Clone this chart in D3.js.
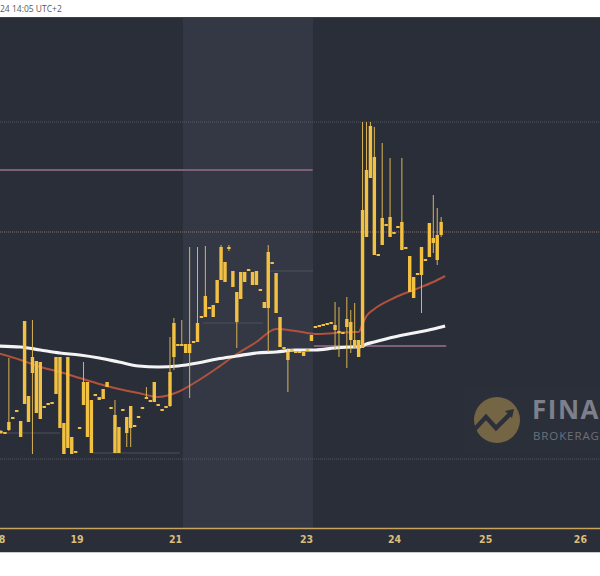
<!DOCTYPE html>
<html><head><meta charset="utf-8">
<script src="https://cdn.jsdelivr.net/npm/d3@7/dist/d3.min.js"></script>
<style>html,body{margin:0;padding:0;background:#fff;}svg{display:block}</style>
</head><body>
<svg id="c" width="600" height="576"></svg>
<script>
// ---- data ----
const opens = [60950,60940,60980,61090,61160,60910,61240,61060,61550,61150,
61090,61200,61230,61240,61340,61000,60740,60800,60740,60750,
60990,61230,60910,60750,61320,61280,61290,61410,61190,60750,
60750,61170,60950,61000,61010,61100,61190,61290,61260,61260,
61220,61170,61200,61220,61710,61820,61820,61750,61750,61850,
61860,62100,62110,62190,62110,62250,62480,62460,62790,62410,
62060,62290,62460,62570,62430,62430,62370,62200,62200,62640,
62150,61810,61790,61680,61770,61750,61750,61720,61770,61870,
62000,62010,62020,62030,62040,61980,61950,61940,62010,61880,
61800,61710,61800,62910,63500,62730,62720,62830,63020,62910,
62940,63000,62780,62790,62360,62300,62530,62530,62670,62710,
62850,62680,62930];
const closes = [60970,60960,61060,61110,61180,61070,62070,61320,61710,61670,
61660,61220,61250,61260,61710,61710,61050,61710,60910,60770,
61010,61460,61460,61280,61340,61310,61390,61460,61210,61130,
61010,61190,61110,61220,61030,61120,61210,61310,61280,61460,
61240,61190,61220,61560,62050,61840,61840,61840,61840,61870,
62050,62120,62320,62210,62230,62480,62810,62660,62810,62570,
62360,62560,62560,62590,62560,62570,62390,62260,62760,62660,
62550,62110,61810,61760,61790,61770,61770,61760,61790,61930,
62020,62030,62040,62050,62060,62030,61970,61960,62090,62060,
61880,61880,63180,63580,64020,63710,62740,63100,63040,63110,
62960,63020,63060,62810,62720,62510,62550,62810,62690,63050,
62900,62930,63060];
const highs = [60980,60960,61700,61110,61180,61070,62070,61320,62080,61670,
61660,61220,61250,61260,61710,61710,61050,61710,60910,60770,
61010,61660,61460,61280,61340,61310,61390,61460,61210,61280,
61010,61190,61110,61220,61030,61120,61210,61410,61280,61460,
61240,61190,61220,61910,62100,61840,62080,61840,62810,61870,
62810,62120,62820,62210,62230,62480,62830,62660,62830,62570,
62360,62560,62560,62590,62560,62570,62390,62260,62830,62660,
62550,62110,61810,61800,61790,61770,61770,61760,61790,61930,
62020,62030,62040,62050,62060,62260,62210,61960,62310,62180,
62250,61880,64060,64060,64060,64010,62740,63850,63040,63700,
62960,63020,63700,62810,62720,62510,62550,62810,62690,63050,
63330,63200,63110];
const lows = [60940,60940,60970,61090,61160,60910,61240,61060,60740,61150,
61090,61200,61230,61240,61340,61000,60740,60800,60740,60750,
60990,61230,60910,60750,61320,61280,61290,61410,61190,60750,
60750,61170,60810,60810,61010,61100,61190,61290,61260,61260,
61220,61170,61200,61210,61580,61820,61820,61750,61300,61850,
61860,62100,62110,62190,62110,62250,62480,62460,62770,62410,
61800,62290,62460,62570,62430,62430,62370,62200,61760,62640,
62150,61810,61790,61360,61770,61750,61750,61720,61770,61870,
62000,62010,62020,62030,62040,61780,61710,61940,61600,61750,
61800,61710,61800,62910,63500,62730,62720,62830,63020,62910,
62940,63000,62780,62790,62360,62300,62530,62150,62670,62710,
62750,62630,62910];

const maIdx   = [-1,5,10,15,20,25,30,35,40,45,50,55,60,65,70,75,80,85,90,91,92,93,95,100,105,110,113];
const maSlow  = [61820,61810,61780,61750,61730,61700,61660,61620,61610,61620,61650,61690,61720,61750,61760,61780,61780,61800,61810,61810,61820,61840,61860,61910,61950,61990,62020];
const maFast  = [61750,61680,61610,61560,61500,61440,61390,61350,61310,61360,61470,61600,61740,61860,61990,61970,61940,61950,61960,61960,62040,62120,62190,62300,62380,62460,62520];

const dayLabels = ["18","19","21","23","24","25","26"];
const dayIdx    = [-0.7, 19.2, 44.3, 77.6, 100, 123.2, 147.3];

const weekendIdx = [46.3, 79.4];
const gridPrices = [64060, 60690];
const lastPrice = 62960;
const resistance = {price: 63580, from: -1, to: 79.3};
const support    = {price: 61820, from: 79.6, to: 113.3};
const minorLevels = [
  {price: 60950, from: -1, to: 15},
  {price: 60750, from: 23.4, to: 45.5},
  {price: 62570, from: 68.4, to: 79.4},
  {price: 62050, from: 51.4, to: 66.7}
];
const headerText = "24 14:05 UTC+2";

// ---- layout ----
const W = 600, plotTop = 17, plotBottom = 528, axisBottom = 552;
const svg = d3.select("#c");
const x = d3.scaleLinear().domain([0, 112]).range([1, 1 + 3.93 * 112]);
const y = d3.scaleLinear().domain([60000, 65100]).range([528, 18]);

// header
svg.append("rect").attr("x",0).attr("y",0).attr("width",W).attr("height",plotTop).attr("fill","#ffffff");
svg.append("text").attr("x",0).attr("y",12).text(headerText)
  .attr("font-family","Open Sans, sans-serif").attr("font-size",8.5).attr("fill","#555a60");

// background
svg.append("rect").attr("x",0).attr("y",plotTop).attr("width",W).attr("height",axisBottom-plotTop).attr("fill","#2a2e39");
svg.append("line").attr("x1",0).attr("x2",W).attr("y1",plotTop+0.5).attr("y2",plotTop+0.5).attr("stroke","#3c404b").attr("stroke-width",1);

svg.append("defs").append("clipPath").attr("id","plot").append("rect")
  .attr("x",0).attr("y",plotTop+1).attr("width",W).attr("height",plotBottom-plotTop-1);
const g = svg.append("g").attr("clip-path","url(#plot)");

// weekend shading
g.append("rect").attr("x",x(weekendIdx[0])).attr("y",plotTop)
  .attr("width",x(weekendIdx[1])-x(weekendIdx[0])).attr("height",plotBottom-plotTop)
  .attr("fill","#343845");

// grid-like dotted levels
g.selectAll(".grid").data(gridPrices).join("line")
  .attr("x1",0).attr("x2",W).attr("y1",d=>y(d)).attr("y2",d=>y(d))
  .attr("stroke","#5a5e6a").attr("stroke-width",1).attr("stroke-dasharray","1,1").attr("opacity",0.8);

// minor levels
g.selectAll(".minor").data(minorLevels).join("line")
  .attr("x1",d=>x(d.from)).attr("x2",d=>x(d.to)).attr("y1",d=>y(d.price)).attr("y2",d=>y(d.price))
  .attr("stroke","#4c505b").attr("stroke-width",1);

// resistance / support
[resistance, support].forEach(l => {
  g.append("line").attr("x1",x(l.from)).attr("x2",x(l.to)).attr("y1",y(l.price)).attr("y2",y(l.price))
   .attr("stroke","#7d5f78").attr("stroke-width",2);
});

// last price dotted line
g.append("line").attr("x1",0).attr("x2",W).attr("y1",y(lastPrice)).attr("y2",y(lastPrice))
  .attr("stroke","#8e7068").attr("stroke-width",1).attr("stroke-dasharray","1,1");

// watermark
const wm = svg.append("g");
wm.append("rect").attr("x",463).attr("y",388).attr("width",137).attr("height",66).attr("fill","#ffffff").attr("opacity",0.006);
wm.append("circle").attr("cx",497).attr("cy",420).attr("r",23).attr("fill","#746544");
wm.append("path").attr("d","M474,430 L486,417 L496,428 L510,414")
  .attr("fill","none").attr("stroke","#2d303a").attr("stroke-width",4.5).attr("stroke-linejoin","miter");
wm.append("path").attr("d","M505,411 L514,409 L512,418 Z").attr("fill","#2d303a");
wm.append("text").attr("x",532).attr("y",419).text("FINANCE")
  .attr("font-family","Open Sans, DejaVu Sans, sans-serif").attr("font-weight","bold").attr("font-size",26).attr("letter-spacing",1.5).attr("fill","#7d808a");
wm.append("text").attr("x",533).attr("y",440).text("BROKERAGE")
  .attr("font-family","Open Sans, DejaVu Sans, sans-serif").attr("font-size",11.5).attr("letter-spacing",0.9).attr("fill","#6d707a");

// moving averages
const maLine = d3.line().x((d,i)=>x(maIdx[i])).y(d=>y(d)).curve(d3.curveMonotoneX);
g.append("path").attr("d",maLine(maFast)).attr("fill","none").attr("stroke","#b1523d").attr("stroke-width",2);
g.append("path").attr("d",maLine(maSlow)).attr("fill","none").attr("stroke","#f4f4f4").attr("stroke-width",3.2);

// candles
const idx = d3.range(opens.length);
g.selectAll(".wick").data(idx).join("line")
  .attr("x1",i=>x(i)).attr("x2",i=>x(i)).attr("y1",i=>y(highs[i])).attr("y2",i=>y(lows[i]))
  .attr("stroke","#d9b452").attr("stroke-width",1);
g.selectAll(".body").data(idx).join("rect")
  .attr("x",i=>x(i)-1.7).attr("width",3.4)
  .attr("y",i=>y(Math.max(opens[i],closes[i])))
  .attr("height",i=>Math.max(1.6, Math.abs(y(opens[i])-y(closes[i]))))
  .attr("fill","#f3c142");

// bottom axis
svg.append("line").attr("x1",0).attr("x2",W).attr("y1",plotBottom+0.5).attr("y2",plotBottom+0.5)
  .attr("stroke","#c9a45c").attr("stroke-width",1.5);
const axisG = svg.append("g").attr("transform",`translate(0,${plotBottom})`);
const axis = d3.axisBottom(x).tickValues(dayIdx).tickFormat((d,i)=>dayLabels[i]).tickSize(0).tickPadding(8);
axisG.call(axis);
axisG.select(".domain").remove();
axisG.selectAll("text").attr("fill","#dcbd7c").attr("font-size",10.5).attr("font-weight","bold")
  .attr("font-family","Liberation Sans Narrow, DejaVu Sans Condensed, sans-serif");
svg.append("line").attr("x1",0).attr("x2",W).attr("y1",axisBottom+0.5).attr("y2",axisBottom+0.5).attr("stroke","#c8cad0").attr("stroke-width",1);
</script>
</body></html>
